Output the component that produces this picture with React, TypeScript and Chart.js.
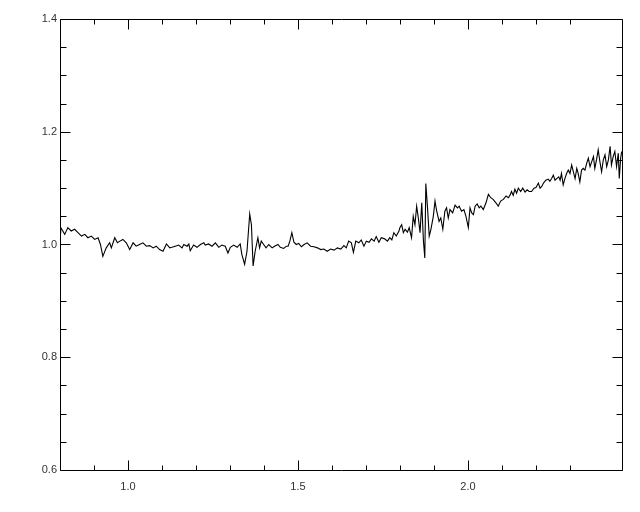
import React, { useEffect, useRef } from 'react';
import { Chart, registerables } from 'chart.js';

Chart.register(...registerables);

const wavelength = [
  0.800, 0.802, 0.814, 0.823, 0.833, 0.843, 0.853, 0.863, 0.873, 0.882, 0.892, 0.902, 0.912, 0.919, 0.926, 0.936, 0.946, 0.951, 0.961, 0.969,
  0.976, 0.985, 0.995, 1.005, 1.015, 1.024, 1.034, 1.044, 1.054, 1.064, 1.074, 1.083, 1.093, 1.103, 1.113, 1.123,
  1.129, 1.139, 1.149, 1.159, 1.164, 1.174, 1.179, 1.183, 1.193, 1.203, 1.213, 1.223, 1.227, 1.237, 1.247,
  1.257, 1.267, 1.276, 1.286, 1.294, 1.301, 1.311, 1.321, 1.330, 1.335, 1.343, 1.350, 1.358, 1.363, 1.368,
  1.374, 1.382, 1.387, 1.392, 1.399, 1.406, 1.414, 1.424, 1.431, 1.441, 1.448, 1.458, 1.466,
  1.471, 1.476, 1.482, 1.488, 1.495, 1.502, 1.510, 1.518, 1.527, 1.537, 1.547, 1.557, 1.567, 1.576, 1.586,
  1.596, 1.606, 1.616, 1.626, 1.635, 1.642, 1.649, 1.657, 1.663, 1.670, 1.679, 1.686, 1.694, 1.701, 1.709,
  1.716, 1.724, 1.730, 1.738, 1.745, 1.755, 1.763, 1.770, 1.776, 1.782, 1.789, 1.797,
  1.800, 1.805, 1.810, 1.815, 1.822, 1.827, 1.834, 1.839, 1.844, 1.849, 1.854, 1.859, 1.864, 1.869,
  1.873, 1.876, 1.881, 1.886, 1.891, 1.898, 1.903, 1.908, 1.915, 1.920, 1.926, 1.932, 1.937, 1.942, 1.947,
  1.955, 1.962, 1.969, 1.974, 1.981, 1.988, 1.994, 2.001, 2.006, 2.011, 2.016, 2.021, 2.027, 2.033, 2.038,
  2.045, 2.053, 2.060, 2.067, 2.074, 2.082, 2.089, 2.096, 2.104, 2.112, 2.119,
  2.124, 2.128, 2.133, 2.138, 2.143, 2.148, 2.155, 2.161, 2.168, 2.174, 2.180, 2.187, 2.194, 2.200, 2.207,
  2.212, 2.217, 2.222, 2.229, 2.236, 2.241, 2.246, 2.251, 2.256, 2.261, 2.267, 2.271, 2.275, 2.280, 2.285,
  2.290, 2.295, 2.300, 2.305, 2.310, 2.315, 2.320, 2.324, 2.329, 2.334, 2.339, 2.344, 2.349, 2.354, 2.359,
  2.364, 2.369, 2.373, 2.378, 2.383, 2.388, 2.393, 2.398, 2.403, 2.408, 2.413, 2.418, 2.422, 2.427, 2.432,
  2.437, 2.442, 2.445, 2.449, 2.452,
];

const flux = [
  1.020, 1.030, 1.018, 1.030, 1.024, 1.027, 1.021, 1.015, 1.018, 1.012, 1.015, 1.009, 1.012, 1.000, 0.979, 0.994, 1.003, 0.994, 1.012, 1.003,
  1.006, 1.009, 1.003, 0.991, 1.003, 0.997, 1.000, 1.003, 0.997, 0.998, 0.994, 0.997, 0.991, 0.988, 1.001, 0.994,
  0.995, 0.997, 0.999, 0.994, 1.000, 0.997, 1.001, 0.989, 0.999, 0.995, 1.000, 1.003, 0.999, 1.001, 0.997,
  1.003, 0.995, 0.999, 0.997, 0.985, 0.995, 0.999, 0.995, 1.001, 0.982, 0.965, 0.988, 1.054, 1.035, 0.962,
  0.988, 1.012, 0.994, 1.006, 1.000, 0.994, 1.000, 0.994, 0.997, 1.000, 0.995, 0.993, 0.997,
  0.997, 1.006, 1.021, 1.004, 1.000, 1.002, 0.996, 1.000, 1.003, 0.997, 0.996, 0.994, 0.991, 0.992, 0.988,
  0.992, 0.990, 0.994, 0.992, 0.998, 0.994, 1.006, 1.003, 0.986, 1.006, 1.003, 1.008, 0.997, 1.006, 1.004,
  1.010, 1.006, 1.014, 1.004, 1.012, 1.010, 1.006, 1.012, 1.008, 1.021, 1.015, 1.024,
  1.030, 1.035, 1.021, 1.027, 1.022, 1.030, 1.012, 1.050, 1.035, 1.068, 1.047, 1.021, 1.074, 1.006,
  0.976, 1.108, 1.065, 1.015, 1.027, 1.050, 1.077, 1.059, 1.041, 1.047, 1.027, 1.059, 1.065, 1.047, 1.062,
  1.056, 1.070, 1.065, 1.068, 1.059, 1.062, 1.050, 1.030, 1.065, 1.056, 1.053, 1.068, 1.072, 1.065, 1.068,
  1.062, 1.074, 1.089, 1.083, 1.080, 1.074, 1.068, 1.077, 1.080, 1.086, 1.083,
  1.088, 1.094, 1.087, 1.098, 1.091, 1.100, 1.094, 1.100, 1.093, 1.097, 1.094, 1.094, 1.100, 1.101, 1.109,
  1.100, 1.103, 1.109, 1.114, 1.116, 1.112, 1.117, 1.123, 1.114, 1.117, 1.120, 1.114, 1.126, 1.106, 1.117,
  1.126, 1.132, 1.126, 1.141, 1.129, 1.117, 1.135, 1.126, 1.111, 1.132, 1.135, 1.132, 1.144, 1.153, 1.138,
  1.147, 1.156, 1.135, 1.150, 1.168, 1.147, 1.129, 1.150, 1.159, 1.138, 1.150, 1.174, 1.141, 1.156, 1.165,
  1.138, 1.162, 1.117, 1.153, 1.165,
];

const xTickLabels = ['1.0', '1.5', '2.0'];
const yTickLabels = ['0.6', '0.8', '1.0', '1.2', '1.4'];

const X_MIN = 0.8;
const X_MAX = 2.453;
const Y_MIN = 0.6;
const Y_MAX = 1.4;

const framePlugin = {
  id: 'frameTicks',
  afterDraw(chart: any) {
    const { ctx, chartArea: a, scales } = chart;
    const L = Math.round(a.left) + 0.5;
    const R = Math.round(a.right) + 0.5;
    const T = Math.round(a.top) + 0.5;
    const B = Math.round(a.bottom) + 0.5;
    ctx.save();
    ctx.strokeStyle = '#000';
    ctx.lineWidth = 1;
    ctx.beginPath();
    ctx.moveTo(L, T); ctx.lineTo(R, T); ctx.lineTo(R, B); ctx.lineTo(L, B); ctx.closePath();
    const xs = scales.x;
    xs.ticks.forEach((t: any) => {
      const v = t.value;
      const k = Math.round(v * 10);
      if (Math.abs(v * 10 - k) > 1e-6) return;
      const len = k % 5 === 0 ? 10 : 5;
      const px = Math.round(xs.getPixelForValue(v)) + 0.5;
      ctx.moveTo(px, B); ctx.lineTo(px, B - len);
      ctx.moveTo(px, T); ctx.lineTo(px, T + len);
    });
    const ys = scales.y;
    ys.ticks.forEach((t: any) => {
      const v = t.value;
      const k = Math.round(v * 20);
      if (Math.abs(v * 20 - k) > 1e-6) return;
      const len = k % 4 === 0 ? 10 : 6;
      const py = Math.round(ys.getPixelForValue(v)) + 0.5;
      ctx.moveTo(L, py); ctx.lineTo(L + len, py);
      ctx.moveTo(R, py); ctx.lineTo(R - len, py);
    });
    ctx.stroke();
    ctx.restore();
  },
};

export default function App() {
  const ref = useRef<HTMLCanvasElement | null>(null);
  useEffect(() => {
    if (!ref.current) return;
    const font = { family: 'Liberation Sans, Arial, sans-serif', size: 11 };
    const chart = new Chart(ref.current, {
      type: 'line',
      data: {
        datasets: [
          {
            data: wavelength.map((x, i) => ({ x, y: flux[i] })),
            borderColor: '#000',
            borderWidth: 1.1,
            pointRadius: 0,
            tension: 0,
            fill: false,
          },
        ],
      },
      options: {
        responsive: false,
        animation: false,
        devicePixelRatio: 1,
        layout: { padding: { top: 19, right: 18, left: 0, bottom: 0 } },
        plugins: { legend: { display: false }, tooltip: { enabled: false } },
        scales: {
          x: {
            type: 'linear',
            min: X_MIN,
            max: X_MAX,
            grid: { display: false, drawTicks: false },
            border: { display: false },
            ticks: {
              stepSize: 0.1,
              autoSkip: false,
              maxRotation: 0,
              padding: 10,
              color: '#333',
              font,
              callback: (value: any) => {
                const v = Number(value);
                const s = v.toFixed(1);
                return Math.abs(v * 2 - Math.round(v * 2)) < 1e-6 && xTickLabels.includes(s) ? s : '';
              },
            },
            afterFit: (s: any) => { s.height = 42; },
          },
          y: {
            type: 'linear',
            min: Y_MIN,
            max: Y_MAX,
            grid: { display: false, drawTicks: false },
            border: { display: false },
            ticks: {
              stepSize: 0.05,
              autoSkip: false,
              padding: 3,
              color: '#333',
              font,
              callback: (value: any) => {
                const v = Number(value);
                const s = v.toFixed(1);
                return Math.abs(v * 5 - Math.round(v * 5)) < 1e-6 && yTickLabels.includes(s) ? s : '';
              },
            },
            afterFit: (s: any) => { s.width = 60; },
          },
        },
      },
      plugins: [framePlugin],
    });
    return () => chart.destroy();
  }, []);
  return (
    <div style={{ position: 'absolute', left: 0, top: 0, width: 640, height: 512, background: '#fff' }}>
      <canvas ref={ref} width={640} height={512} />
    </div>
  );
}
